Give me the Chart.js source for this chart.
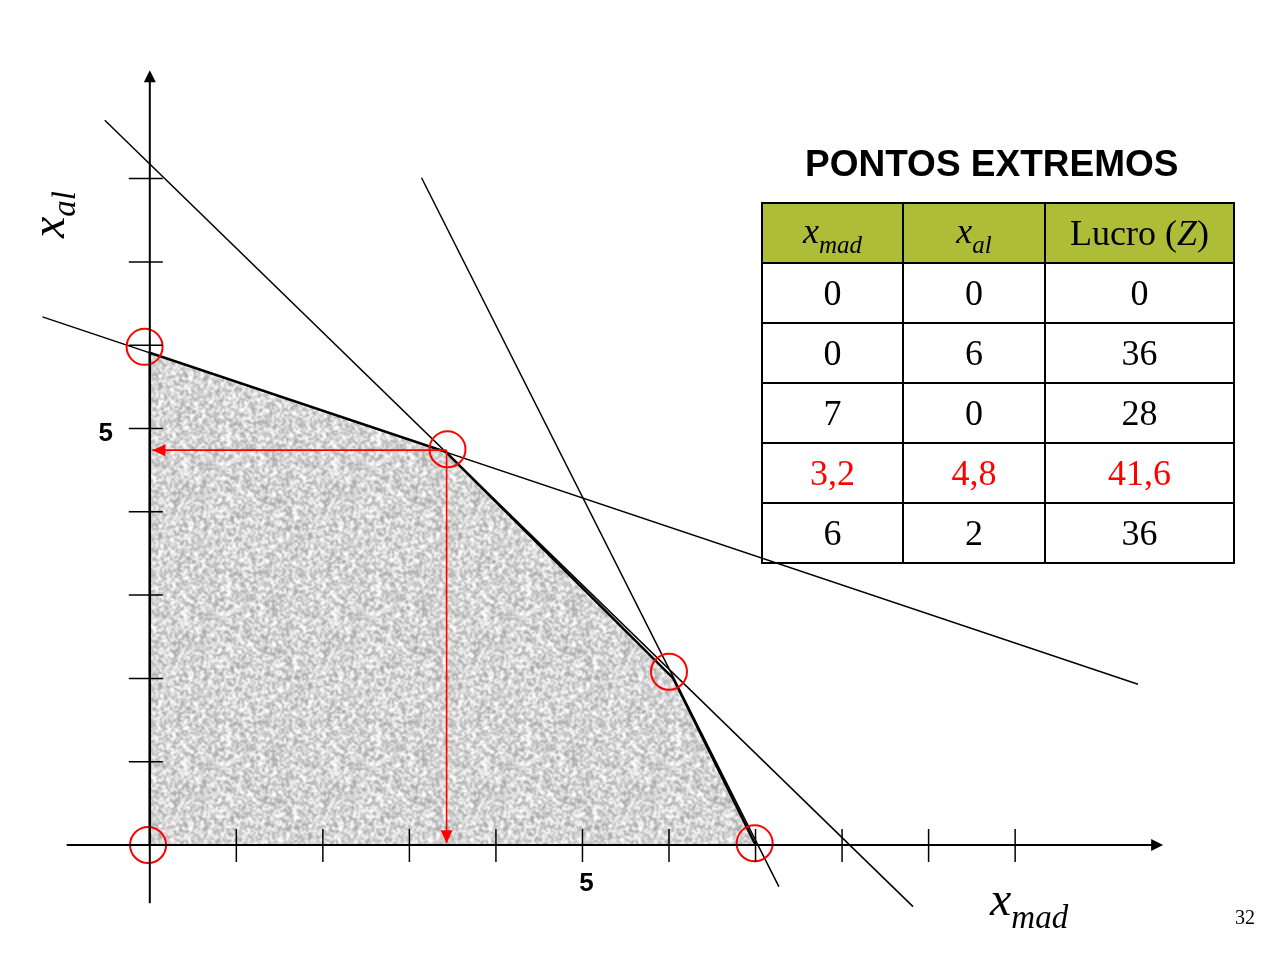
<!DOCTYPE html>
<html>
<head>
<meta charset="utf-8">
<script src="https://cdn.jsdelivr.net/npm/chart.js@4.4.0/dist/chart.umd.min.js"></script>
<style>
  html, body { margin: 0; padding: 0; background: #fff; overflow: hidden; }
  #quadro { position: relative; width: 1275px; height: 958px; }
  #grafico-wrap { position: absolute; left: 0; top: 0; width: 1275px; height: 958px; }
  .texto { position: absolute; white-space: nowrap; }
  #titulo { left: 805px; top: 145px; font: bold 37px/37px "Liberation Sans", Arial, sans-serif; color: #000; }
  #pontos {
    position: absolute; left: 761px; top: 202px; width: 472px;
    border-collapse: collapse; table-layout: fixed;
    font-family: "Liberation Serif", "Times New Roman", serif; font-size: 36px; line-height: 36px;
  }
  #pontos td, #pontos th {
    border: 2px solid #000; height: 58px; padding: 0;
    text-align: center; font-weight: normal; color: #000;
  }
  #pontos th { background: #aebd38; }
  #pontos tr.otimo td { color: #ff0000; }
  .var { font-style: italic; }
  .sub { font-style: italic; position: relative; }
  #pontos .sub { font-size: 25px; top: 10px; }
  #rotuloX { left: 990px; top: 875px; font: italic 48px/48px "Liberation Serif", "Times New Roman", serif; }
  #rotuloX .sub { font-size: 33px; top: 13px; }
  #rotuloY {
    left: 24px; top: 238px; font: italic 48px/48px "Liberation Serif", "Times New Roman", serif;
    transform-origin: 0 0; transform: rotate(-90deg);
  }
  #rotuloY .sub { font-size: 33px; top: 11px; }
  #pagina { left: 1235px; top: 907px; font: 20px/20px "Liberation Serif", "Times New Roman", serif; }
</style>
</head>
<body>
<div id="quadro">
  <div id="grafico-wrap"><canvas id="grafico"></canvas></div>
  <div class="texto" id="titulo">PONTOS EXTREMOS</div>
  <table id="pontos">
    <colgroup><col style="width:141px"><col style="width:142px"><col style="width:189px"></colgroup>
    <tr>
      <th><span class="var">x</span><span class="sub">mad</span></th>
      <th><span class="var">x</span><span class="sub">al</span></th>
      <th>Lucro (<span class="var">Z</span>)</th>
    </tr>
  </table>
  <div class="texto" id="rotuloX">x<span class="sub">mad</span></div>
  <div class="texto" id="rotuloY">x<span class="sub">al</span></div>
  <div class="texto" id="pagina">32</div>
</div>

<script>
// tabela de pontos extremos
var tabelaXmad = [0, 0, 7, 3.2, 6];
var tabelaXal = [0, 6, 0, 4.8, 2];
var tabelaLucro = [0, 36, 28, 41.6, 36];
var linhaOtima = 3;

// regiao viavel (vertices)
var regiaoX = [0, 0, 3.42, 6.05, 7];
var regiaoY = [0, 5.91, 4.72, 2.0, 0];

// circulos vermelhos nos vertices
var circulosX = [-0.02, -0.06, 3.44, 6.0, 6.99];
var circulosY = [0, 5.98, 4.75, 2.08, 0.02];

// retas das restricoes (extremidades)
var reta1X = [-1.24, 11.42];
var reta1Y = [6.34, 1.93];
var reta2X = [-0.52, 8.82];
var reta2Y = [8.70, -0.74];
var reta3X = [3.14, 7.27];
var reta3Y = [8.01, -0.50];

// setas vermelhas do ponto otimo
var setaHorX = [3.43, 0.03];
var setaHorY = [4.74, 4.74];
var setaVerX = [3.43, 3.43];
var setaVerY = [4.74, 0.02];

// marcas dos eixos
var marcasX = [1, 2, 3, 4, 5, 6, 7, 8, 9, 10];
var marcasY = [1, 2, 3, 4, 5, 6, 7, 8];
var rotulosX = [5];
var rotulosY = [5];

// extensao das linhas dos eixos
var eixoXInicio = -0.96, eixoXFim = 11.71;
var eixoYInicio = -0.70, eixoYFim = 9.30;

function pares(xs, ys) {
  return xs.map(function (x, i) { return { x: x, y: ys[i] }; });
}

function formata(v) {
  return String(v).replace(".", ",");
}

// monta as linhas da tabela
var tabela = document.getElementById("pontos");
for (var i = 0; i < tabelaXmad.length; i++) {
  var tr = document.createElement("tr");
  if (i === linhaOtima) tr.className = "otimo";
  [tabelaXmad[i], tabelaXal[i], tabelaLucro[i]].forEach(function (v) {
    var td = document.createElement("td");
    td.textContent = formata(v);
    tr.appendChild(td);
  });
  tabela.appendChild(tr);
}

// textura cinza granulada da regiao
function texturaCinza() {
  var n = 150;
  var c = document.createElement("canvas");
  c.width = n; c.height = n;
  var g = c.getContext("2d");
  var img = g.createImageData(n, n);
  var s = 2463534242;
  function rnd() {
    s ^= s << 13; s ^= s >>> 17; s ^= s << 5;
    return (s >>> 0) / 4294967296;
  }
  var m = n / 2;
  var blocos = [];
  for (var by = 0; by < m; by++) {
    blocos.push([]);
    for (var bx = 0; bx < m; bx++) {
      blocos[by].push(150 + rnd() * 105);
    }
  }
  function bloco(x, y) {
    return blocos[((y >> 1) + m) % m][((x >> 1) + m) % m];
  }
  for (var y = 0; y < n; y++) {
    for (var x = 0; x < n; x++) {
      var soma = 0;
      for (var dy = -1; dy <= 1; dy++) {
        for (var dx = -1; dx <= 1; dx++) {
          soma += bloco((x + dx + n) % n, (y + dy + n) % n);
        }
      }
      var v = 213 + (soma / 9 - 202) * 1.05;
      var k = (y * n + x) * 4;
      img.data[k] = v; img.data[k + 1] = v; img.data[k + 2] = v; img.data[k + 3] = 255;
    }
  }
  g.putImageData(img, 0, 0);
  return g.createPattern(c, "repeat");
}

var eixosPlugin = {
  id: "eixos",
  afterDatasetsDraw: function (chart) {
    var ctx = chart.ctx;
    var sx = chart.scales.x, sy = chart.scales.y;
    var x0 = sx.getPixelForValue(0), y0 = sy.getPixelForValue(0);
    ctx.save();
    ctx.strokeStyle = "#000";
    ctx.fillStyle = "#000";
    ctx.lineWidth = 2;

    var xa = sx.getPixelForValue(eixoXInicio), xb = sx.getPixelForValue(eixoXFim);
    ctx.beginPath(); ctx.moveTo(xa, y0); ctx.lineTo(xb - 8, y0); ctx.stroke();
    ctx.beginPath(); ctx.moveTo(xb, y0); ctx.lineTo(xb - 12, y0 - 6); ctx.lineTo(xb - 12, y0 + 6); ctx.closePath(); ctx.fill();

    var ya = sy.getPixelForValue(eixoYInicio), yb = sy.getPixelForValue(eixoYFim);
    ctx.beginPath(); ctx.moveTo(x0, ya); ctx.lineTo(x0, yb + 8); ctx.stroke();
    ctx.beginPath(); ctx.moveTo(x0, yb); ctx.lineTo(x0 - 6, yb + 12); ctx.lineTo(x0 + 6, yb + 12); ctx.closePath(); ctx.fill();

    ctx.lineWidth = 1.5;
    marcasX.forEach(function (v) {
      var p = sx.getPixelForValue(v);
      ctx.beginPath(); ctx.moveTo(p, y0 - 16); ctx.lineTo(p, y0 + 17); ctx.stroke();
    });
    marcasY.forEach(function (v) {
      var p = sy.getPixelForValue(v);
      ctx.beginPath(); ctx.moveTo(x0 - 21, p); ctx.lineTo(x0 + 13, p); ctx.stroke();
    });

    ctx.font = "bold 26px 'Liberation Sans', Arial, sans-serif";
    ctx.textAlign = "center";
    ctx.textBaseline = "middle";
    rotulosX.forEach(function (v) {
      ctx.fillText(String(v), sx.getPixelForValue(v) + 4, y0 + 39);
    });
    rotulosY.forEach(function (v) {
      ctx.fillText(String(v), x0 - 44, sy.getPixelForValue(v) + 5);
    });
    ctx.restore();
  }
};

var setasPlugin = {
  id: "setas",
  afterDatasetsDraw: function (chart) {
    var ctx = chart.ctx;
    chart.data.datasets.forEach(function (ds, i) {
      if (!ds.seta) return;
      var pts = chart.getDatasetMeta(i).data;
      var a = pts[pts.length - 2], b = pts[pts.length - 1];
      var ang = Math.atan2(b.y - a.y, b.x - a.x);
      ctx.save();
      ctx.translate(b.x, b.y);
      ctx.rotate(ang);
      ctx.fillStyle = ds.borderColor;
      ctx.beginPath();
      ctx.moveTo(0, 0); ctx.lineTo(-13, -6); ctx.lineTo(-13, 6); ctx.closePath();
      ctx.fill();
      ctx.restore();
    });
  }
};

function reta(xs, ys) {
  return {
    data: pares(xs, ys), showLine: true, borderColor: "#000", borderWidth: 1.5,
    pointRadius: 0, fill: false, order: 3
  };
}

function seta(xs, ys) {
  return {
    data: pares(xs, ys), showLine: true, borderColor: "#ff0000", borderWidth: 1.6,
    pointRadius: 0, fill: false, order: 2, seta: true
  };
}

new Chart("grafico", {
  type: "scatter",
  data: {
    datasets: [
      {
        data: pares(regiaoX, regiaoY), showLine: true, fill: "origin",
        backgroundColor: texturaCinza(), borderColor: "#000", borderWidth: 2.5,
        pointRadius: 0, order: 4
      },
      reta(reta1X, reta1Y),
      reta(reta2X, reta2Y),
      reta(reta3X, reta3Y),
      seta(setaHorX, setaHorY),
      seta(setaVerX, setaVerY),
      {
        data: pares(circulosX, circulosY), showLine: false, pointStyle: "circle",
        pointRadius: 18, pointBorderWidth: 2, pointBorderColor: "#ff0000",
        pointBackgroundColor: "rgba(0,0,0,0)", order: 1
      }
    ]
  },
  options: {
    responsive: true,
    maintainAspectRatio: false,
    animation: false,
    layout: { padding: { left: 19.1, right: 86.8, top: 53.65, bottom: 29.7 } },
    scales: {
      x: { type: "linear", min: -1.5, max: 12, display: false },
      y: { type: "linear", min: -1, max: 9.5, display: false }
    },
    plugins: {
      legend: { display: false },
      tooltip: { enabled: false }
    }
  },
  plugins: [eixosPlugin, setasPlugin]
});
</script>
</body>
</html>
